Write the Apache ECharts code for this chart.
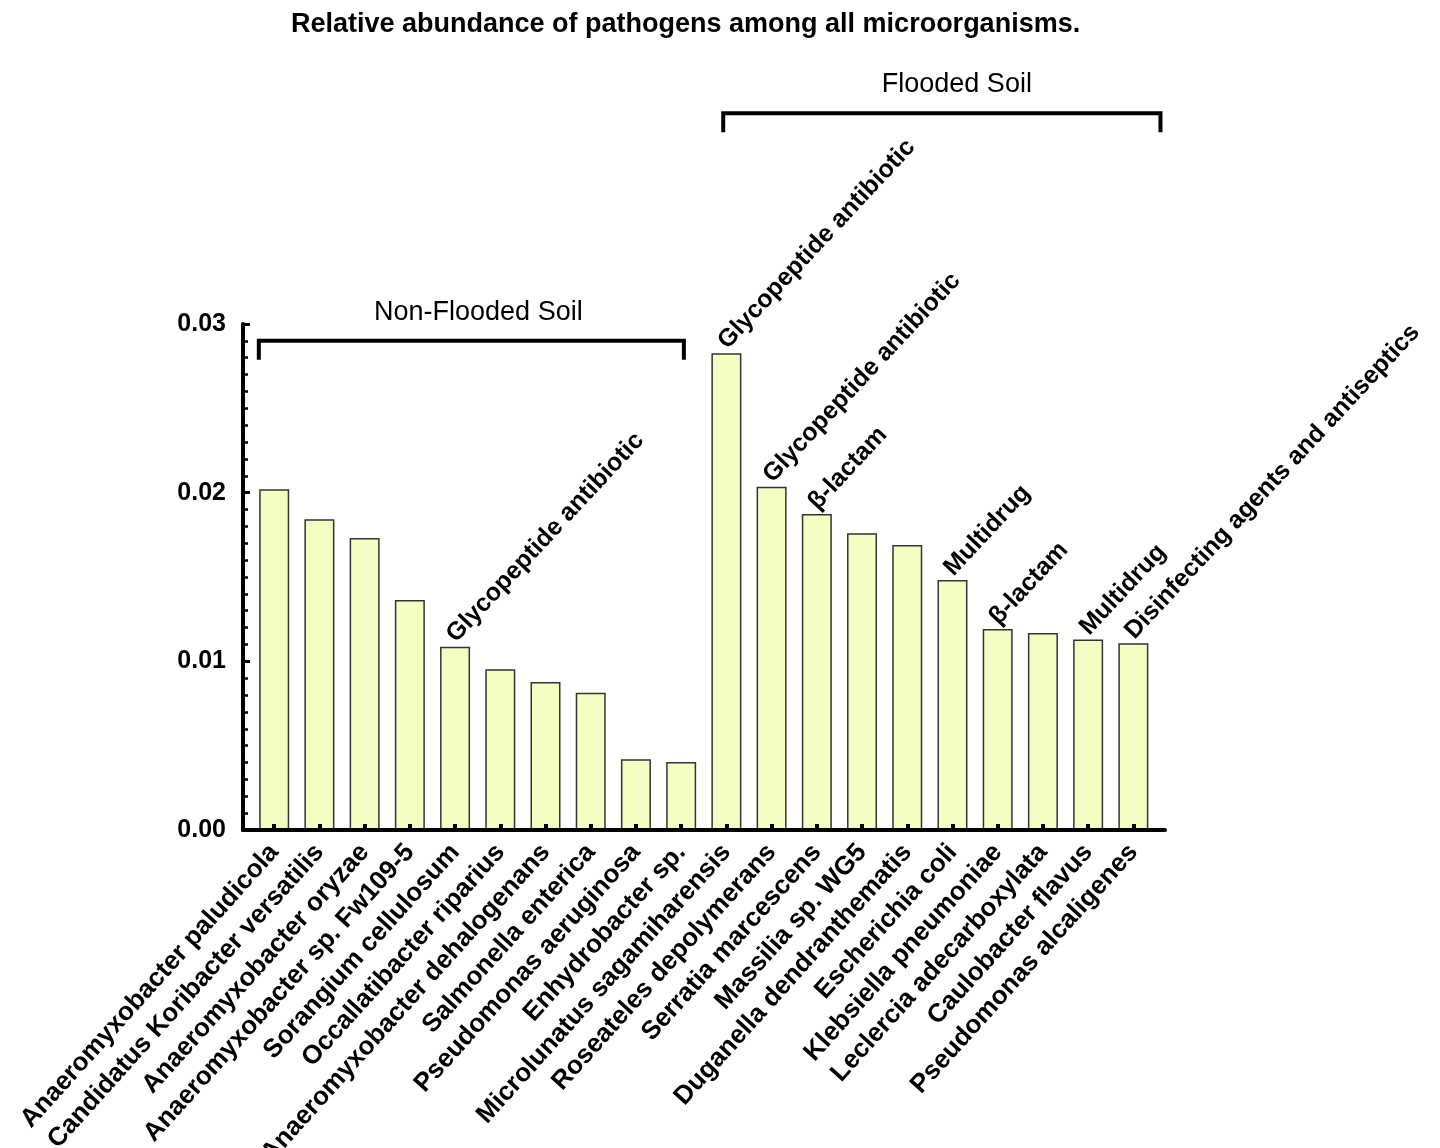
<!DOCTYPE html>
<html>
<head>
<meta charset="utf-8">
<script src="https://cdn.jsdelivr.net/npm/echarts@6/dist/echarts.min.js"></script>
<style>
  html, body { margin: 0; padding: 0; background: #ffffff; }
  #chart { width: 1440px; height: 1148px; }
</style>
</head>
<body>
<div id="chart"></div>
<script>
// Pathogen species, in plotting order (first ten: non-flooded soil, last ten: flooded soil)
const categories = [
  'Anaeromyxobacter paludicola',
  'Candidatus Koribacter versatilis',
  'Anaeromyxobacter oryzae',
  'Anaeromyxobacter sp. Fw109-5',
  'Sorangium cellulosum',
  'Occallatibacter riparius',
  'Anaeromyxobacter dehalogenans',
  'Salmonella enterica',
  'Pseudomonas aeruginosa',
  'Enhydrobacter sp.',
  'Microlunatus sagamiharensis',
  'Roseateles depolymerans',
  'Serratia marcescens',
  'Massilia sp. WG5',
  'Duganella dendranthematis',
  'Escherichia coli',
  'Klebsiella pneumoniae',
  'Leclercia adecarboxylata',
  'Caulobacter flavus',
  'Pseudomonas alcaligenes'
];

// Relative abundance among all microorganisms
const abundance = [
  0.0202, 0.01843, 0.01731, 0.01363, 0.01087, 0.00953, 0.00877, 0.00814, 0.00419, 0.00403,
  0.02826, 0.02035, 0.01873, 0.0176, 0.01689, 0.01482, 0.01191, 0.01168, 0.0113, 0.01107
];

// Resistance class noted above a bar ('' = none)
const resistance = [
  '', '', '', '', 'Glycopeptide antibiotic', '', '', '', '', '',
  'Glycopeptide antibiotic', 'Glycopeptide antibiotic', 'β-lactam', '', '', 'Multidrug',
  'β-lactam', '', 'Multidrug', 'Disinfecting agents and antiseptics'
];

// Y axis tick values
const yTicks = [0, 0.01, 0.02, 0.03];

// Soil groups
const groupNames = ['Non-Flooded Soil', 'Flooded Soil'];
const groupFirst = [0, 10];
const groupLast = [9, 19];

// Bracket drawing config (x in category-index units, level in axis units, title shift in px)
const bracketEnds = [[-0.34, 9.06], [9.93, 19.6]];
const bracketLevel = [0.0290, 0.0425];
const bracketTitleShift = [7, 15];

const FONT = '"Liberation Sans", Arial, Helvetica, sans-serif';
const indices = categories.map((_, i) => i);

const chart = echarts.init(document.getElementById('chart'), null, { renderer: 'canvas' });

chart.setOption({
  backgroundColor: '#ffffff',
  animation: false,
  title: {
    text: 'Relative abundance of pathogens among all microorganisms.',
    left: 286,
    top: 6,
    textStyle: { fontFamily: FONT, fontWeight: 'bold', fontSize: 27, color: '#000' }
  },
  grid: {
    left: 243, right: 275, top: 324, bottom: 318,
    containLabel: false,
    outerBoundsMode: 'none'
  },
  xAxis: {
    type: 'value',
    min: -0.69,
    max: 19.7,
    z: 4,
    splitLine: { show: false },
    axisLine: { show: true, onZero: false, lineStyle: { color: '#000', width: 4 } },
    axisTick: {
      show: true, inside: true, length: 6, customValues: indices,
      lineStyle: { color: '#000', width: 4 }
    },
    axisLabel: {
      show: true,
      customValues: indices,
      rotate: 48,
      margin: 18,
      formatter: v => categories[Math.round(v)],
      fontFamily: FONT, fontWeight: 'bold', fontSize: 26, color: '#000'
    }
  },
  yAxis: {
    type: 'value',
    min: yTicks[0],
    max: yTicks[yTicks.length - 1],
    interval: 0.01,
    z: 4,
    splitLine: { show: false },
    axisLine: { show: true, onZero: false, lineStyle: { color: '#000', width: 4 } },
    axisTick: { show: true, inside: true, length: 7, lineStyle: { color: '#000', width: 3 } },
    minorTick: { show: true, splitNumber: 10, length: 5, lineStyle: { color: '#000', width: 2.5 } },
    axisLabel: {
      margin: 17,
      formatter: v => v.toFixed(2),
      fontFamily: FONT, fontWeight: 'bold', fontSize: 25, color: '#000'
    }
  },
  series: [
    {
      type: 'bar',
      barWidth: 30,
      data: abundance.map((v, i) => [i, v]),
      itemStyle: { color: '#F4FEC3', borderColor: '#333333', borderWidth: 1.5 },
      label: {
        show: true,
        position: [11, -8],
        rotate: 47,
        align: 'left',
        verticalAlign: 'middle',
        formatter: p => resistance[p.dataIndex],
        fontFamily: FONT, fontWeight: 'bold', fontSize: 25, color: '#000'
      },
      z: 2
    },
    {
      type: 'custom',
      clip: false,
      silent: true,
      encode: { x: [0, 1], y: 2 },
      data: groupNames.map((_, g) => [bracketEnds[g][0], bracketEnds[g][1], bracketLevel[g]]),
      renderItem: (params, api) => {
        const a = api.coord([api.value(0), api.value(2)]);
        const b = api.coord([api.value(1), api.value(2)]);
        const drop = 19;
        return {
          type: 'group',
          children: [
            {
              type: 'polyline',
              shape: { points: [[a[0], a[1] + drop], [a[0], a[1]], [b[0], b[1]], [b[0], b[1] + drop]] },
              style: { stroke: '#000', lineWidth: 4, fill: null, lineJoin: 'miter', lineCap: 'butt' }
            },
            {
              type: 'text',
              x: (a[0] + b[0]) / 2 + bracketTitleShift[params.dataIndex],
              y: a[1] - 15,
              style: {
                text: groupNames[params.dataIndex],
                fill: '#000',
                font: '27px ' + FONT,
                align: 'center',
                verticalAlign: 'bottom'
              }
            }
          ]
        };
      },
      z: 3
    }
  ]
});
</script>
</body>
</html>
